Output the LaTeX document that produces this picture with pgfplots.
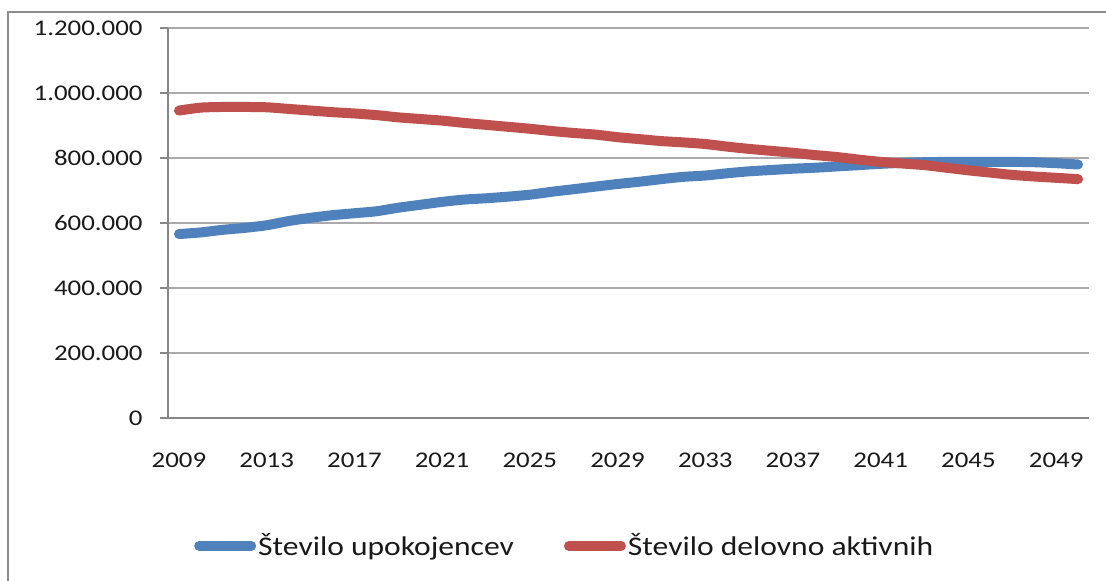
\documentclass[border=0pt]{standalone}
\usepackage{fontspec}
\setmainfont{Carlito}
\usepackage{graphicx}
\usepackage{pgfplots}
\usepackage{pgfplotstable}
\pgfplotsset{compat=1.18}
\definecolor{xlblue}{RGB}{79,129,189}
\definecolor{xlred}{RGB}{192,80,77}
\definecolor{axgray}{RGB}{134,134,134}
\definecolor{grgray}{RGB}{170,170,170}
\definecolor{frgray}{RGB}{140,140,140}
\newcommand{\sx}[1]{\scalebox{1.2}[1]{#1}}
\newcommand{\slg}[1]{\scalebox{1.17}[1]{#1}}
\pgfplotstableread{
year upok delo
2009 566000 946000
2010 571000 955000
2011 579000 957000
2012 585000 957000
2013 593000 956000
2014 606000 951000
2015 616000 946000
2016 624000 941000
2017 630000 937000
2018 636000 932000
2019 647000 925000
2020 656000 920000
2021 665000 915000
2022 672000 908000
2023 676000 902000
2024 681000 896000
2025 687000 890000
2026 696000 883000
2027 704000 877000
2028 712000 872000
2029 720000 864000
2030 727000 858000
2031 735000 852000
2032 742000 848000
2033 746000 843000
2034 753000 835000
2035 759000 828000
2036 763000 822000
2037 767000 816000
2038 770000 809000
2039 774000 803000
2040 778000 795000
2041 782000 788000
2042 785000 783000
2043 787000 778000
2044 788000 770000
2045 788000 762000
2046 788000 755000
2047 788000 748000
2048 787000 743000
2049 784000 739000
2050 780000 735000
}\datatable
\begin{document}
\begin{tikzpicture}
\useasboundingbox (-84pt,-81.5pt) rectangle (469pt,209pt);
\begin{axis}[
  at={(0,0)}, anchor=south west,
  scale only axis, width=460.5pt, height=195pt,
  xmin=2008.5, xmax=2050.5,
  ymin=0, ymax=1200000,
  axis lines*=left,
  axis line style={draw=axgray, line width=0.6pt},
  tick align=outside,
  major tick length=4pt,
  xtick={2009,2013,...,2049},
  xticklabels={\sx{2009},\sx{2013},\sx{2017},\sx{2021},\sx{2025},\sx{2029},\sx{2033},\sx{2037},\sx{2041},\sx{2045},\sx{2049}},
  x tick style={draw=none},
  extra x ticks={2008.5,2012.5,...,2048.5},
  extra x tick labels={},
  extra x tick style={grid=none, tick style={draw=axgray, line width=0.6pt}, major tick length=3.5pt},
  ytick={0,200000,...,1200000},
  yticklabels={\sx{0},\sx{200.000},\sx{400.000},\sx{600.000},\sx{800.000},\sx{1.000.000},\sx{1.200.000}},
  y tick style={draw=axgray, line width=0.6pt},
  scaled y ticks=false,
  ymajorgrids=true,
  grid style={draw=grgray, line width=0.6pt},
  ticklabel style={font=\fontsize{11.2}{13}\selectfont, text=black!90},
  yticklabel style={anchor=east, inner sep=0pt, xshift=-8.5pt},
  xticklabel style={anchor=north, inner sep=0pt, yshift=-13.5pt},
  legend columns=2,
  legend style={at={(0.028,-0.328)}, anchor=west, draw=none, fill=none,
    inner sep=0pt, font=\fontsize{13.5}{15}\selectfont,
    nodes={inner sep=1pt, text=black!90},
    /tikz/every even column/.append style={column sep=24pt}},
  legend image code/.code={\draw[#1, line width=5pt, line cap=round] (1.5pt,0pt) -- (27.5pt,0pt);},
]
\addplot[color=xlblue, line width=5pt, line cap=round, smooth, tension=0.4] table[x=year, y=upok] {\datatable};
\addlegendentry{\slg{Število upokojencev}}
\addplot[color=xlred, line width=5pt, line cap=round, smooth, tension=0.4] table[x=year, y=delo] {\datatable};
\addlegendentry{\slg{Število delovno aktivnih}}
\end{axis}
\draw[frgray, line width=1pt] (-80pt,-82pt) -- (-80pt,203pt) -- (470pt,203pt);
\end{tikzpicture}
\end{document}
